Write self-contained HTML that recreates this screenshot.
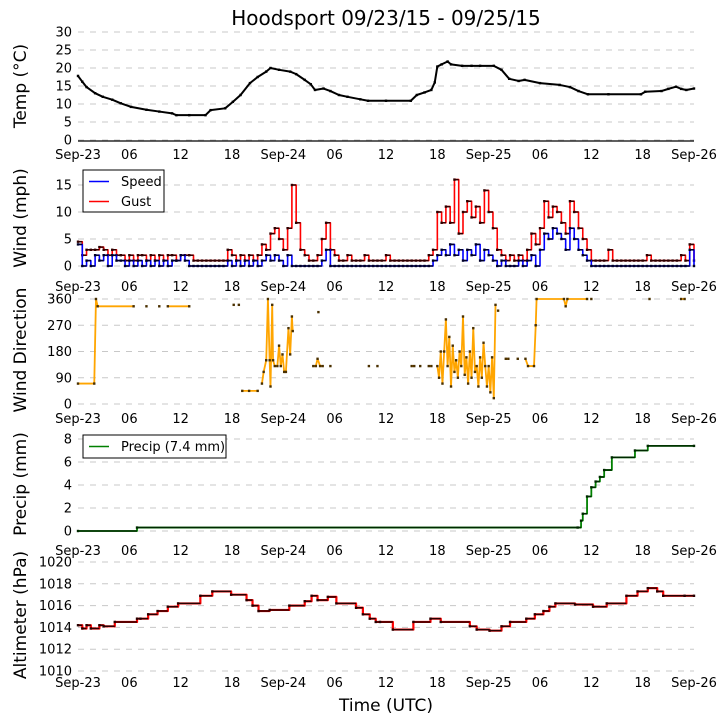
<!DOCTYPE html>
<html><head><meta charset="utf-8"><style>
html,body{margin:0;padding:0;background:#fff;}
svg{display:block;font-family:"DejaVu Sans","Liberation Sans",sans-serif;}
</style></head><body>
<svg id="chart" width="725" height="725" viewBox="0 0 725 725" xmlns="http://www.w3.org/2000/svg">
<text x="386" y="25" font-size="20" text-anchor="middle">Hoodsport 09/23/15 - 09/25/15</text>
<text x="386" y="711" font-size="17" text-anchor="middle">Time (UTC)</text>
</svg>
<script>
// ---- data ----
var timeTickLabels = ["Sep-23","06","12","18","Sep-24","06","12","18","Sep-25","06","12","18","Sep-26"];
var tempTicks = [0,5,10,15,20,25,30];
var windTicks = [0,5,10,15];
var dirTicks = [0,90,180,270,360];
var precipTicks = [0,2,4,6,8];
var altTicks = [1010,1012,1014,1016,1018,1020];

var tempTimes = [0,0.5,1,2,2.9,4,5,6.2,8,9.5,11,11.5,13,14.9,15.5,17.2,18.1,19,20.1,21,22,22.5,23.5,24.8,25.5,26.5,27.2,27.7,28.7,29.5,30.5,31.5,33,33.9,36,38.9,39.6,40.5,41.3,41.7,42,42.5,43.2,43.6,44.9,46,47,48.6,49.5,50.4,51.5,52.2,54,56.3,57.5,58.5,59.6,62,65.8,66.3,68.2,69,69.9,70.5,71.1,72];
var tempValues = [17.8,16.2,14.7,13,12,11.2,10.2,9.2,8.4,7.9,7.4,6.9,6.9,6.9,8.3,8.8,10.6,12.5,15.8,17.5,19,20,19.5,19,18.3,16.7,15.5,13.9,14.3,13.6,12.5,12,11.3,10.9,10.9,10.9,12.5,13.2,13.9,16,20.4,21,21.8,21,20.6,20.6,20.6,20.6,19.5,17,16.4,16.7,15.8,15.3,14.7,13.6,12.7,12.7,12.7,13.4,13.6,14.2,14.8,14.2,13.9,14.3];

var gustValues = [
4.5,2,3,3,3,3.5,3,2,3,2,2,1,
2,1,2,2,1,2,1,2,1,2,2,1,
2,2,2,1,1,1,1,1,1,1,1,3,
2,1,2,1,2,1,2,4,3,6,7,5,
3,7,15,8,3,2,1,1,2,5,8,3,
2,1,1,2,1,1,1,2,1,1,1,1,
2,1,1,1,1,1,1,1,1,1,2,3,
10,8,11,8,16,6,10,12,9,11,8,14,
10,7,3,2,1,2,1,2,1,3,6,4,
7,12,9,11,10,8,6,12,10,7,5,3,
1,1,1,1,3,1,1,1,1,1,1,1,
1,2,1,1,1,1,1,1,1,2,1,4,
1];
var speedValues = [
4,0,1,0,2,1,2,0,2,1,1,0,
1,0,1,0,1,0,1,0,1,0,1,1,
2,1,0,0,0,0,0,0,0,0,0,1,
0,1,0,1,0,1,0,1,2,1,2,1,
0,2,0,0,0,0,0,0,0,1,3,0,
0,0,0,0,0,0,0,0,0,0,0,0,
0,0,0,0,0,0,0,0,0,0,0,1,
2,3,2,4,2,3,1,3,2,4,1,3,
2,1,0,1,0,0,0,1,0,1,2,0,
3,6,5,7,6,5,3,7,5,3,2,1,
0,0,0,0,0,0,0,0,0,0,0,0,
0,0,0,0,0,0,0,0,0,0,0,3,
0];

var dirTimes = [0,1.9,2.1,2.3,6.5,6.6,8,8.1,9.5,9.6,10.5,13,13.1,18.2,18.3,18.8,18.9,19.2,20,21,21.1,
21.5,21.7,22,22.2,22.4,22.5,22.7,22.8,23,23.3,23.5,23.7,23.9,24.1,24.3,24.6,24.8,25,25.1,25.2,
27.5,27.8,28,28.3,28.6,28.7,28.1,28.2,29.5,29.6,34,34.1,35,35.1,39,39.3,39.4,40,40.1,41,41.3,41.4,
42,42.2,42.4,42.6,42.8,43,43.2,43.4,43.6,43.8,44,44.2,44.4,44.6,44.8,45,45.2,45.4,45.6,45.8,46,46.2,46.4,46.6,46.8,47,47.2,47.4,47.6,47.8,48,48.2,48.4,48.6,48.8,48.9,
49.1,49.2,50,50.3,50.4,51.4,51.5,52.3,52.6,53.3,53.5,53.6,56.8,57,57.2,59.5,59.6,60,60.1,66.8,66.9,70.5,70.9];
var dirValues = [70,70,360,335,335,null,335,null,335,null,335,335,null,340,null,340,null,45,45,45,null,
70,110,150,360,150,60,340,150,130,130,200,130,170,110,110,260,170,300,250,null,
130,130,155,130,130,null,315,null,130,null,130,null,130,null,130,130,null,130,null,130,130,null,
130,90,180,70,180,290,130,230,60,200,110,150,90,180,130,300,100,160,70,180,90,260,110,130,60,160,90,210,130,60,130,40,160,20,340,null,
320,null,155,155,null,155,null,155,130,130,270,360,360,335,360,360,null,360,null,360,null,360,360];

var precipTimes = [0,6.9,58.4,58.8,59,59.5,60,60.5,61,61.5,62.4,65.1,66.6,72];
var precipValues = [0,0.3,0.3,0.9,1.5,3,3.8,4.3,4.7,5.3,6.4,7,7.4,7.4];

var altTimes = [0,0.5,1,1.5,2.5,3,4.3,6.9,7.3,8.2,9.3,10.5,11.7,14.3,15.7,17.9,19.7,20.4,21.1,22.4,24.7,26.5,27.3,28,29.2,30.2,32.5,33.3,34.1,34.8,35.3,36.8,39.2,41.2,42.4,45.8,46.6,48.1,49.5,50.5,52.4,53.4,54.4,55.1,55.8,58.1,60.2,61.8,64.1,65.4,66.6,67.7,68.4,70.9,72];
var altValues = [1014.2,1013.9,1014.2,1013.9,1014.2,1014.1,1014.5,1014.8,1014.8,1015.2,1015.5,1015.9,1016.2,1016.9,1017.3,1017,1016.5,1016,1015.5,1015.6,1016,1016.4,1016.9,1016.5,1016.8,1016.2,1015.8,1015.2,1014.8,1014.5,1014.5,1013.8,1014.5,1014.8,1014.5,1014.1,1013.8,1013.7,1014.1,1014.5,1014.8,1015.2,1015.5,1015.9,1016.2,1016.1,1015.9,1016.2,1016.9,1017.3,1017.6,1017.3,1016.9,1016.9,1016.9];

// ---- scales ----
var svg = document.getElementById('chart');
var NS = 'http://www.w3.org/2000/svg';
var X0 = 78, X1 = 694;
function xScale(h){ return X0 + h*(X1-X0)/72; }
function lin(v0,y0,v1,y1){ return function(v){ return y0 + (v-v0)*(y1-y0)/(v1-v0); }; }
var yTemp = lin(0,140,30,32);
var yWind = lin(0,266,15,185);
var yDir = lin(0,404,360,299);
var yPrecip = lin(0,531,8,439);
var yAlt = lin(1010,671,1020,562);

function mk(tag, attrs){
  var e = document.createElementNS(NS, tag);
  for (var k in attrs) e.setAttribute(k, attrs[k]);
  svg.appendChild(e);
  return e;
}

function panel(name, ticks, yf, title, titleY, tickBaseline){
  for (var i=0;i<ticks.length;i++){
    var y = yf(ticks[i]);
    var g = mk('line',{x1:X0,x2:X1,y1:y,y2:y,stroke:'#c8c8c8','stroke-width':1,'stroke-dasharray':'6,6'});
    
    
    var t = mk('text',{x:72,y:y+4.5,'font-size':13,'text-anchor':'end'});
    t.textContent = ticks[i];
    
    
  }
  for (var j=0;j<timeTickLabels.length;j++){
    var tx = mk('text',{x:xScale(j*6),y:tickBaseline,'font-size':13,'text-anchor':'middle'});
    tx.textContent = timeTickLabels[j];
    
    
  }
  var yl = mk('text',{x:0,y:0,'font-size':17,'text-anchor':'middle',transform:'translate(26,'+titleY+') rotate(-90)'});
  yl.textContent = title;
  
  
}

function series(name, times, vals, yf, color, width, step, mcolor){
  var d = '', dh = '', pen = false, prevY = null, prevX = null;
  for (var i=0;i<vals.length;i++){
    if (vals[i]===null){ pen=false; continue; }
    var x = xScale(times[i]), y = yf(vals[i]);
    if (!pen){ d += 'M'+x+' '+y; pen=true; }
    else if (step){ d += 'L'+x+' '+prevY+'L'+x+' '+y; dh += 'M'+prevX+' '+prevY+'L'+x+' '+prevY; }
    else { d += 'L'+x+' '+y; }
    prevY = y; prevX = x;
  }
  var p = mk('path',{d:d,fill:'none',stroke:color,'stroke-width':width,'stroke-linejoin':'round'});
  
  
  if (step && dh){
    var ph = mk('path',{d:dh,fill:'none',stroke:mcolor,'stroke-width':1.5});
    
    
  }
  var gm = mk('g',{fill:mcolor});
  
  
  for (var k=0;k<vals.length;k++){
    if (vals[k]===null) continue;
    var r = document.createElementNS(NS,'rect');
    r.setAttribute('x', xScale(times[k])-1.2);
    r.setAttribute('y', yf(vals[k])-1.2);
    r.setAttribute('width', 2.4);
    r.setAttribute('height', 2.4);
    gm.appendChild(r);
  }
}

panel('temp', tempTicks, yTemp, 'Temp (\u00b0C)', 86, 159);
panel('wind', windTicks, yWind, 'Wind (mph)', 218, 291);
panel('dir', dirTicks, yDir, 'Wind Direction', 350, 423);
panel('precip', precipTicks, yPrecip, 'Precip (mm)', 484, 555);
panel('alt', altTicks, yAlt, 'Altimeter (hPa)', 615, 687);

var base = mk('line',{x1:X0,x2:X1,y1:141,y2:141,stroke:'#000','stroke-width':1.2});



series('temp', tempTimes, tempValues, yTemp, '#000', 2, false, '#000');

var windTimes = [];
for (var w=0; w<gustValues.length; w++) windTimes.push(w*0.5);
series('gust', windTimes, gustValues, yWind, '#ff0000', 1.6, true, '#300000');
series('speed', windTimes, speedValues, yWind, '#0000ff', 1.6, true, '#000028');

series('wind-direction', dirTimes, dirValues, yDir, '#ffa500', 1.8, false, '#4a3000');
series('precip', precipTimes, precipValues, yPrecip, '#008000', 1.8, true, '#002800');
series('altimeter', altTimes, altValues, yAlt, '#ff0000', 2.2, true, '#280000');

// legends
function legend(name, x, y, w, h, entries){
  var g = mk('g',{});
  
  
  var r = document.createElementNS(NS,'rect');
  r.setAttribute('x',x); r.setAttribute('y',y); r.setAttribute('width',w); r.setAttribute('height',h);
  r.setAttribute('fill','#fff'); r.setAttribute('stroke','#000'); r.setAttribute('stroke-width',1);
  g.appendChild(r);
  for (var i=0;i<entries.length;i++){
    var ly = y + 11.5 + i*20;
    var l = document.createElementNS(NS,'line');
    l.setAttribute('x1',x+6); l.setAttribute('x2',x+26); l.setAttribute('y1',ly); l.setAttribute('y2',ly);
    l.setAttribute('stroke',entries[i][1]); l.setAttribute('stroke-width',1.6);
    
    
    g.appendChild(l);
    var t = document.createElementNS(NS,'text');
    t.setAttribute('x',x+38); t.setAttribute('y',ly+4.5); t.setAttribute('font-size',13);
    t.textContent = entries[i][0];
    
    
    g.appendChild(t);
  }
}
legend('wind-legend', 83, 170, 81, 42, [['Speed','#0000ff'],['Gust','#ff0000']]);
legend('precip-legend', 83, 435, 143, 23, [['Precip (7.4 mm)','#008000']]);
</script>
</body></html>
